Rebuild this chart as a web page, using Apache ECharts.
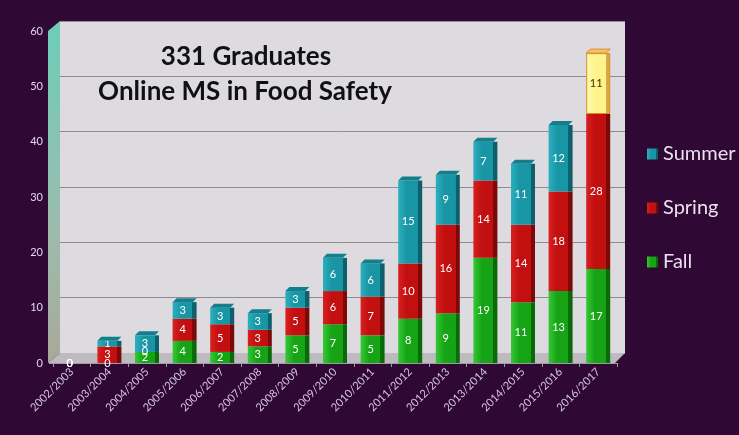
<!DOCTYPE html>
<html>
<head>
<meta charset="utf-8">
<script src="https://cdn.jsdelivr.net/npm/echarts@6/dist/echarts.min.js"></script>
<style>
  html, body { margin: 0; padding: 0; background: #2f0834; }
  #main { width: 739px; height: 435px; }
</style>
</head>
<body>
<div id="main"></div>
<script>
// academic years
const years = ['2002/2003', '2003/2004', '2004/2005', '2005/2006', '2006/2007', '2007/2008',
  '2008/2009', '2009/2010', '2010/2011', '2011/2012', '2012/2013', '2013/2014',
  '2014/2015', '2015/2016', '2016/2017'];
// graduates per semester
const fall = [0, 0, 2, 4, 2, 3, 5, 7, 5, 8, 9, 19, 11, 13, 17];
const spring = [0, 3, 0, 4, 5, 3, 5, 6, 7, 10, 16, 14, 14, 18, 28];
const summer = [0, 1, 3, 3, 3, 3, 3, 6, 6, 15, 9, 7, 11, 12, 11];
const yTicks = [0, 10, 20, 30, 40, 50, 60];

const totals = years.map((y, i) => fall[i] + spring[i] + summer[i]);

// front face + darker side stripe
function face(light, base, dark) {
  return new echarts.graphic.LinearGradient(0, 0, 1, 0, [
    { offset: 0, color: light },
    { offset: 0.35, color: base },
    { offset: 0.82, color: base },
    { offset: 0.83, color: dark },
    { offset: 1, color: dark }
  ]);
}
const GREEN = face('#35c835', '#16a416', '#0a6a0a');
const RED = face('#d92020', '#c20f0f', '#7c0808');
const TEAL = face('#2bb0bf', '#1996a6', '#0d5f6b');
const YELLOW = face('#fffbb8', '#fff38c', '#d8a94a');

const chart = echarts.init(document.getElementById('main'));

const labelStyle = {
  show: true,
  position: 'inside',
  offset: [-2, 0],
  color: '#ffffff',
  fontSize: 11,
  fontFamily: 'Lato'
};

const summerData = summer.map((v, i) => {
  if (i === years.length - 1) {
    return {
      value: v,
      itemStyle: { color: YELLOW, borderColor: '#e08a20', borderWidth: 1 },
      label: { color: '#3a3000' }
    };
  }
  return v;
});

chart.setOption({
  backgroundColor: '#2f0834',
  animation: false,
  graphic: [
    // side wall
    {
      type: 'polygon', z: 1,
      shape: { points: [[48, 31], [60, 21], [60, 353], [48, 363]] },
      style: {
        fill: new echarts.graphic.LinearGradient(0, 0, 0, 1, [
          { offset: 0, color: '#6ccdb8' },
          { offset: 0.6, color: '#9cbcae' },
          { offset: 1, color: '#a9a89a' }
        ])
      }
    },
    // floor
    {
      type: 'polygon', z: 1,
      shape: { points: [[48, 363], [60, 353], [625, 353], [615, 363]] },
      style: { fill: '#bdbbc0' }
    },
    {
      type: 'text', z: 5, x: 246, y: 57,
      style: {
        text: '331 Graduates', textAlign: 'center', textVerticalAlign: 'middle',
        font: 'bold 26px Lato', fill: '#111111'
      }
    },
    {
      type: 'text', z: 5, x: 245, y: 92,
      style: {
        text: 'Online MS in Food Safety', textAlign: 'center', textVerticalAlign: 'middle',
        font: 'bold 26px Lato', fill: '#111111'
      }
    }
  ],
  legend: {
    data: ['Summer', 'Spring', 'Fall'],
    orient: 'vertical',
    left: 642,
    top: 139,
    itemGap: 34,
    itemWidth: 11,
    itemHeight: 11,
    icon: 'rect',
    textStyle: { color: '#ece2ee', fontSize: 20, fontFamily: 'Lato' }
  },
  grid: [
    { left: 53, top: 31, width: 564, height: 332 },
    {
      left: 60, top: 21, width: 565, height: 332,
      show: true, backgroundColor: '#dddbe0', borderWidth: 0
    }
  ],
  xAxis: [
    {
      type: 'category',
      gridIndex: 0,
      data: years,
      axisLine: { lineStyle: { color: '#a09aa4' } },
      axisTick: { show: true, lineStyle: { color: '#a09aa4' }, length: 4 },
      axisLabel: {
        rotate: 45, color: '#d6c6dc', fontSize: 11, fontFamily: 'Lato',
        interval: 0, margin: 7
      }
    },
    { type: 'value', gridIndex: 1, min: 0, max: 1, show: false }
  ],
  yAxis: [
    {
      type: 'value',
      gridIndex: 0,
      min: yTicks[0],
      max: yTicks[yTicks.length - 1],
      interval: 10,
      axisLine: { show: false },
      axisTick: { show: true, length: 4, lineStyle: { color: '#a09aa4' } },
      splitLine: { show: false },
      axisLabel: { color: '#e4d6ea', fontSize: 11, fontFamily: 'Lato', margin: 10 }
    },
    {
      type: 'value',
      gridIndex: 1,
      min: 0, max: 60, interval: 10,
      axisLine: { show: false },
      axisTick: { show: false },
      axisLabel: { show: false },
      splitLine: { lineStyle: { color: '#8e8c90', width: 1 } }
    }
  ],
  series: [
    {
      name: 'Fall', type: 'bar', stack: 'g', barWidth: 24, z: 3,
      data: fall, itemStyle: { color: GREEN }, label: labelStyle
    },
    {
      name: 'Spring', type: 'bar', stack: 'g', barWidth: 24, z: 3,
      data: spring, itemStyle: { color: RED }, label: labelStyle
    },
    {
      name: 'Summer', type: 'bar', stack: 'g', barWidth: 24, z: 3,
      data: summerData, itemStyle: { color: TEAL }, label: labelStyle
    },
    {
      // top caps of the 3D columns
      type: 'custom', z: 4, silent: true,
      data: totals.map((t, i) => [i, t]),
      renderItem: function (params, api) {
        const i = api.value(0);
        const t = api.value(1);
        if (t <= 0) return;
        const p = api.coord([i, t]);
        const xl = p[0] - 12;
        let fill = '#137e8c';
        if (summer[i] === 0) fill = spring[i] > 0 ? '#9c0c0c' : '#128a12';
        if (i === years.length - 1) fill = '#f3c26a';
        return {
          type: 'polygon',
          shape: { points: [[xl, p[1]], [xl + 4, p[1] - 4], [xl + 24, p[1] - 4], [xl + 20, p[1]]] },
          style: { fill: fill, stroke: i === years.length - 1 ? '#e08a20' : null }
        };
      }
    }
  ]
});
</script>
</body>
</html>
